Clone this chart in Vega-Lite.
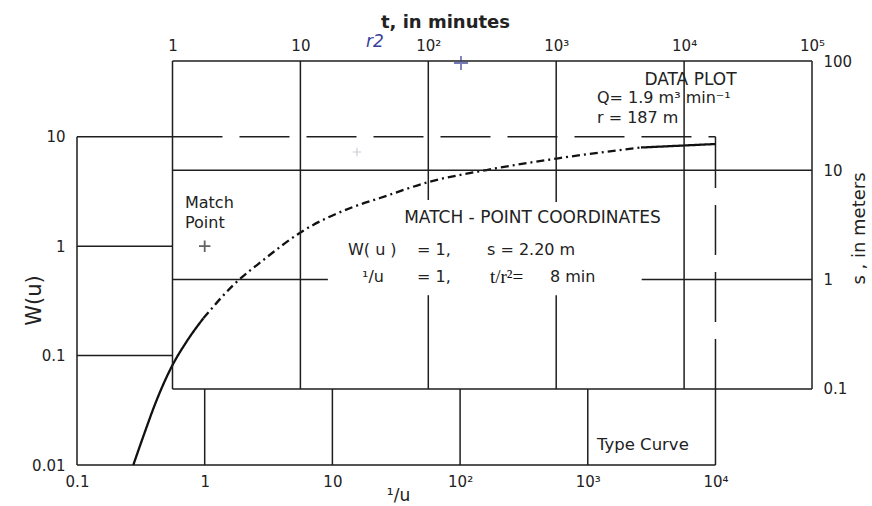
{
  "$schema": "https://vega.github.io/schema/vega-lite/v6.json",
  "width": 735,
  "height": 404,
  "autosize": {"type": "none"},
  "padding": {"left": 77, "top": 61, "right": 60, "bottom": 41},
  "background": "white",
  "config": {
    "view": {"stroke": null},
    "axis": {"domain": false, "ticks": false, "grid": false, "labelFont": "DejaVu Sans", "labelFontSize": 15, "labelColor": "#222", "titleFont": "DejaVu Sans", "titleColor": "#222", "titleFontWeight": "normal", "labelFlush": false, "labelOverlap": false},
    "text": {"font": "DejaVu Sans", "color": "#222"}
  },
  "datasets": {
    "typeGrid": [
      {"ux": 0.1, "ux2": 0.1, "w": 0.01, "w2": 10, "style": "solid"},
      {"ux": 0.1, "ux2": 10000, "w": 0.01, "w2": 0.01, "style": "solid"},
      {"ux": 0.1, "ux2": 0.5595, "w": 10, "w2": 10, "style": "solid"},
      {"ux": 0.5595, "ux2": 10000, "w": 10, "w2": 10, "style": "dashed"},
      {"ux": 0.1, "ux2": 0.5595, "w": 1, "w2": 1, "style": "solid"},
      {"ux": 0.1, "ux2": 0.5595, "w": 0.1, "w2": 0.1, "style": "solid"},
      {"ux": 1, "ux2": 1, "w": 0.01, "w2": 0.0495, "style": "solid"},
      {"ux": 10, "ux2": 10, "w": 0.01, "w2": 0.0495, "style": "solid"},
      {"ux": 100, "ux2": 100, "w": 0.01, "w2": 0.0495, "style": "solid"},
      {"ux": 1000, "ux2": 1000, "w": 0.01, "w2": 0.0495, "style": "solid"},
      {"ux": 10000, "ux2": 10000, "w": 0.01, "w2": 0.0495, "style": "solid"},
      {"ux": 10000, "ux2": 10000, "w": 0.0495, "w2": 8.6, "style": "dashed"},
      {"ux": 10000, "ux2": 10000, "w": 8.6, "w2": 10, "style": "solid"}
    ],
    "curve": [
      {"ux": 0.276, "w": 0.01, "style": "solid", "part": "a"},
      {"ux": 0.33, "w": 0.01816, "style": "solid", "part": "a"},
      {"ux": 0.421, "w": 0.0393, "style": "solid", "part": "a"},
      {"ux": 0.551, "w": 0.0791, "style": "solid", "part": "a"},
      {"ux": 0.727, "w": 0.136, "style": "solid", "part": "a"},
      {"ux": 0.975, "w": 0.219, "style": "solid", "part": "a"},
      {"ux": 0.975, "w": 0.219, "style": "dashdot", "part": "b"},
      {"ux": 1.675, "w": 0.441, "style": "dashdot", "part": "b"},
      {"ux": 2.88, "w": 0.748, "style": "dashdot", "part": "b"},
      {"ux": 5.75, "w": 1.357, "style": "dashdot", "part": "b"},
      {"ux": 14.5, "w": 2.282, "style": "dashdot", "part": "b"},
      {"ux": 23.59, "w": 2.758, "style": "dashdot", "part": "b"},
      {"ux": 58.1, "w": 3.89, "style": "dashdot", "part": "b"},
      {"ux": 161.5, "w": 4.97, "style": "dashdot", "part": "b"},
      {"ux": 587, "w": 6.36, "style": "dashdot", "part": "b"},
      {"ux": 2610, "w": 7.98, "style": "dashdot", "part": "b"},
      {"ux": 2610, "w": 7.98, "style": "solid", "part": "c"},
      {"ux": 10000, "w": 8.59, "style": "solid", "part": "c"}
    ],
    "typeText": [
      {"ux": 0.7009, "w": 2.483, "label": "Match"},
      {"ux": 0.7009, "w": 1.63, "label": "Point"},
      {"ux": 13.25, "w": 0.923, "label": "W( u )"},
      {"ux": 45.97, "w": 0.923, "label": "=  1,"},
      {"ux": 162.4, "w": 0.923, "label": "s  =  2.20  m"},
      {"ux": 17.05, "w": 0.523, "label": "¹/u"},
      {"ux": 45.97, "w": 0.523, "label": "=  1,"},
      {"ux": 505.8, "w": 0.523, "label": "8  min"}
    ],
    "dataGrid": [
      {"t": 1, "t2": 1, "s": 0.1, "s2": 100},
      {"t": 100000, "t2": 100000, "s": 0.1, "s2": 100},
      {"t": 1, "t2": 100000, "s": 100, "s2": 100},
      {"t": 1, "t2": 100000, "s": 0.1, "s2": 0.1},
      {"t": 10, "t2": 10, "s": 0.1, "s2": 100},
      {"t": 100, "t2": 100, "s": 5.35, "s2": 100},
      {"t": 100, "t2": 100, "s": 0.1, "s2": 0.72},
      {"t": 1000, "t2": 1000, "s": 5.13, "s2": 100},
      {"t": 1000, "t2": 1000, "s": 0.1, "s2": 0.72},
      {"t": 10000, "t2": 10000, "s": 0.1, "s2": 100},
      {"t": 1, "t2": 100000, "s": 10, "s2": 10},
      {"t": 1, "t2": 16.4, "s": 1, "s2": 1},
      {"t": 4660, "t2": 100000, "s": 1, "s2": 1}
    ],
    "dataText": [
      {"t": 2084, "s": 45.87, "label": "Q=  1.9  m³  min⁻¹"},
      {"t": 2084, "s": 30.1, "label": "r =  187  m"}
    ]
  },
  "layer": [
    {
      "encoding": {
        "x": {"field": "ux", "type": "quantitative", "scale": {"type": "log", "domain": [0.1, 57000], "nice": false},
          "axis": {"orient": "bottom", "values": [0.1, 1, 10, 100, 1000, 10000], "labelPadding": 9,
            "labelExpr": "datum.value < 0.05 ? '0.01' : datum.value < 0.5 ? '0.1' : datum.value < 5 ? '1' : datum.value < 50 ? '10' : datum.value < 500 ? '10²' : datum.value < 5000 ? '10³' : datum.value < 50000 ? '10⁴' : '10⁵'",
            "title": "¹/u", "titleFontSize": 17, "titleX": 321, "titleY": 35, "titleBaseline": "alphabetic", "titleAlign": "center"}},
        "y": {"field": "w", "type": "quantitative", "scale": {"type": "log", "domain": [0.01, 49.3], "nice": false},
          "axis": {"orient": "left", "values": [0.01, 0.1, 1, 10], "labelPadding": 12,
            "labelExpr": "datum.value < 0.05 ? '0.01' : datum.value < 0.5 ? '0.1' : datum.value < 5 ? '1' : '10'",
            "title": "W(u)", "titleFontSize": 21, "titleAngle": 270, "titleX": -37, "titleY": 239, "titleBaseline": "alphabetic", "titleAlign": "center"}}
      },
      "layer": [
        {
          "data": {"name": "typeGrid"},
          "mark": {"type": "rule", "stroke": "#1e1e1e", "strokeWidth": 1.5},
          "encoding": {
            "x2": {"field": "ux2"},
            "y2": {"field": "w2"},
            "strokeDash": {"field": "style", "type": "nominal", "scale": {"domain": ["solid", "dashed", "dashdot"], "range": [[1, 0], [50, 17], [8, 4, 2, 4]]}, "legend": null}
          }
        },
        {
          "data": {"name": "curve"},
          "mark": {"type": "line", "interpolate": "monotone", "stroke": "#111", "strokeWidth": 2.3},
          "encoding": {
            "strokeDash": {"field": "style", "type": "nominal", "scale": {"domain": ["solid", "dashed", "dashdot"], "range": [[1, 0], [50, 17], [8, 4, 2, 4]]}, "legend": null},
            "detail": {"field": "part"}
          }
        },
        {
          "data": {"values": [{"ux": 1, "w": 1}]},
          "mark": {"type": "point", "shape": "M-1,0L1,0M0,-1L0,1", "size": 130, "filled": false, "stroke": "#222", "strokeWidth": 1.8},
          "encoding": {}
        },
        {
          "data": {"name": "typeText"},
          "mark": {"type": "text", "align": "left", "baseline": "middle", "fontSize": 16},
          "encoding": {"text": {"field": "label"}}
        },
        {
          "data": {"values": [{"ux": 1180, "w": 0.01523, "label": "Type Curve"}]},
          "mark": {"type": "text", "align": "left", "baseline": "middle", "fontSize": 16.5},
          "encoding": {"text": {"field": "label"}}
        },
        {
          "data": {"values": [{"ux": 369, "w": 1.81, "label": "MATCH - POINT  COORDINATES"}]},
          "mark": {"type": "text", "align": "center", "baseline": "middle", "fontSize": 17},
          "encoding": {"text": {"field": "label"}}
        },
        {
          "data": {"values": [{"ux": 171.4, "w": 0.523, "label": "t/r²="}]},
          "mark": {"type": "text", "align": "left", "baseline": "middle", "fontSize": 19, "font": "Liberation Serif", "color": "#111"},
          "encoding": {"text": {"field": "label"}}
        }
      ]
    },
    {
      "encoding": {
        "x": {"field": "t", "type": "quantitative", "scale": {"type": "log", "domain": [0.1792, 100000], "nice": false},
          "axis": {"orient": "top", "values": [1, 10, 100, 1000, 10000, 100000], "labelPadding": 8,
            "labelExpr": "datum.value < 5 ? '1' : datum.value < 50 ? '10' : datum.value < 500 ? '10²' : datum.value < 5000 ? '10³' : datum.value < 50000 ? '10⁴' : '10⁵'",
            "title": "t, in minutes", "titleFontSize": 18, "titleFontWeight": "bold", "titleX": 368, "titleY": -34, "titleBaseline": "alphabetic", "titleAlign": "center"}},
        "y": {"field": "s", "type": "quantitative", "scale": {"type": "log", "domain": [0.02012, 100], "nice": false},
          "axis": {"orient": "right", "values": [0.1, 1, 10, 100], "labelPadding": 11,
            "labelExpr": "datum.value < 0.5 ? '0.1' : datum.value < 5 ? '1' : datum.value < 50 ? '10' : '100'",
            "title": "s , in meters", "titleFontSize": 18, "titleAngle": 270, "titleX": 52, "titleY": 167, "titleBaseline": "alphabetic", "titleAlign": "center"}}
      },
      "layer": [
        {
          "data": {"name": "dataGrid"},
          "mark": {"type": "rule", "stroke": "#1e1e1e", "strokeWidth": 1.5},
          "encoding": {
            "x2": {"field": "t2"},
            "y2": {"field": "s2"}
          }
        },
        {
          "data": {"name": "dataText"},
          "mark": {"type": "text", "align": "left", "baseline": "middle", "fontSize": 16},
          "encoding": {"text": {"field": "label"}}
        },
        {
          "data": {"values": [{"t": 11220, "s": 67.0, "label": "DATA  PLOT"}]},
          "mark": {"type": "text", "align": "center", "baseline": "middle", "fontSize": 17},
          "encoding": {"text": {"field": "label"}}
        },
        {
          "data": {"values": [{"t": 180.2, "s": 95.9}]},
          "mark": {"type": "point", "shape": "M-1,0L1,0M0,-1L0,1", "size": 200, "filled": false, "stroke": "#3b3f9a", "strokeWidth": 1.8},
          "encoding": {}
        },
        {
          "data": {"values": [{"t": 27.7, "s": 14.7}]},
          "mark": {"type": "point", "shape": "M-1,0L1,0M0,-1L0,1", "size": 70, "filled": false, "stroke": "#b8b8c8", "strokeWidth": 1.2},
          "encoding": {}
        },
        {
          "data": {"values": [{"t": 32.6, "s": 149, "label": "r2"}]},
          "mark": {"type": "text", "align": "left", "baseline": "middle", "fontSize": 17, "fontStyle": "italic", "color": "#3b3f9a"},
          "encoding": {"text": {"field": "label"}}
        }
      ]
    }
  ],
  "resolve": {"scale": {"x": "independent", "y": "independent"}}
}
